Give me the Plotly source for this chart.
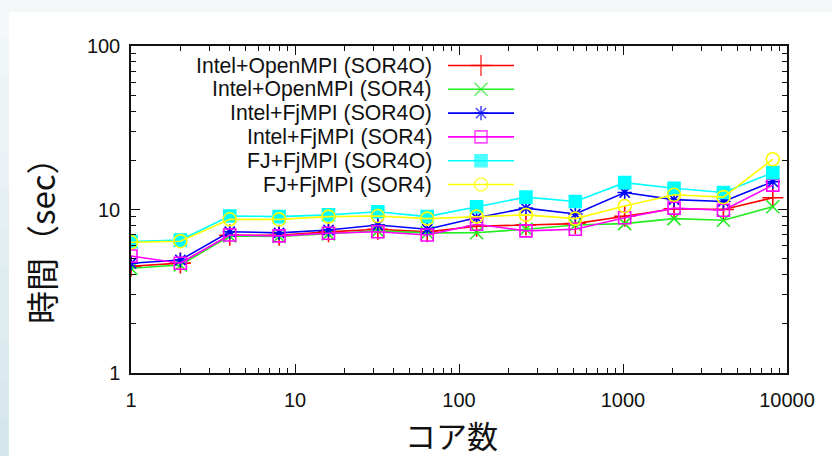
import plotly.graph_objects as go

# Core counts (x) and elapsed time in seconds for each build/solver pair
cores = [1, 2, 4, 8, 16, 32, 64, 128, 256, 512, 1024, 2048, 4096, 8192]

intel_openmpi_sor4o = [4.5, 4.7, 6.95, 6.95, 7.3, 7.57, 7.3, 7.9, 8.04, 8.2, 9.1, 10.1, 10.0, 11.8]
intel_openmpi_sor4 = [4.37, 4.58, 6.88, 6.85, 7.1, 7.4, 7.2, 7.21, 7.57, 8.04, 8.2, 8.8, 8.6, 10.4]
intel_fjmpi_sor4o = [4.69, 4.91, 7.31, 7.2, 7.49, 8.04, 7.57, 8.9, 10.2, 9.38, 12.7, 11.5, 11.2, 14.8]
intel_fjmpi_sor4 = [5.2, 4.69, 6.98, 6.9, 7.15, 7.31, 6.98, 8.12, 7.4, 7.57, 8.91, 10.2, 9.9, 14.1]
fj_fjmpi_sor4o = [6.36, 6.5, 9.12, 9.05, 9.27, 9.69, 9.05, 10.4, 11.9, 11.2, 14.6, 13.5, 12.7, 16.8]
fj_fjmpi_sor4 = [6.3, 6.4, 8.71, 8.7, 9.05, 9.12, 8.8, 9.05, 9.27, 8.8, 10.5, 12.3, 11.9, 20.3]

series_names = [
    "Intel+OpenMPI (SOR4O)",
    "Intel+OpenMPI (SOR4)",
    "Intel+FjMPI (SOR4O)",
    "Intel+FjMPI (SOR4)",
    "FJ+FjMPI (SOR4O)",
    "FJ+FjMPI (SOR4)",
]
series_values = [
    intel_openmpi_sor4o,
    intel_openmpi_sor4,
    intel_fjmpi_sor4o,
    intel_fjmpi_sor4,
    fj_fjmpi_sor4o,
    fj_fjmpi_sor4,
]

x_tick_vals = [1, 10, 100, 1000, 10000]
x_tick_text = ["1", "10", "100", "1000", "10000"]
y_tick_vals = [1, 10, 100]
y_tick_text = ["1", "10", "100"]

x_title = "コア数"
y_title = "時間（sec）"

# gnuplot-like styles: colour, symbol, marker size
styles = [
    ("#ff0000", "cross-thin-open", 15),
    ("#22ee22", "x-thin-open", 13),
    ("#0000ff", "asterisk-open", 12),
    ("#ff00ff", "square-open", 12),
    ("#00ffff", "square", 12),
    ("#ffff00", "circle-open", 13),
]

W, H = 832, 456
L, R, T, B = 131, 787, 46, 373  # plot area in pixels

fig = go.Figure()

for name, vals, (col, sym, size) in zip(series_names, series_values, styles):
    fig.add_trace(go.Scatter(
        x=cores, y=vals, name=name, mode="lines+markers",
        line=dict(color=col, width=1.6),
        marker=dict(symbol=sym, size=size, color=col, line=dict(color=col, width=1.6)),
        showlegend=False,
    ))

# Key drawn gnuplot-style: right-aligned label, then line sample with marker
key_right = 433
key_line = (448, 514)
key_top = 65.5
key_step = 23.8
for i, (name, (col, sym, size)) in enumerate(zip(series_names, styles)):
    yk = key_top + i * key_step
    fig.add_trace(go.Scatter(
        x=[key_line[0], (key_line[0] + key_line[1]) / 2, key_line[1]],
        y=[yk, yk, yk], xaxis="x2", yaxis="y2", mode="lines+markers",
        line=dict(color=col, width=1.6),
        marker=dict(symbol=sym, size=[0, size, 0], color=col,
                    line=dict(color=col, width=1.6)),
        showlegend=False, hoverinfo="skip",
    ))
    fig.add_annotation(
        x=key_right, y=yk, xref="x2", yref="y2", text=name, showarrow=False,
        xanchor="right", yanchor="middle", borderpad=0,
        font=dict(family="Liberation Sans, Arial", size=21.2, color="#111111"),
    )

def px_x(p):
    return (p - L) / (R - L)

def px_y(p):
    return (B - p) / (B - T)

# light page background along the left and top edges
steps = 12
for k in range(steps):
    t = k / (steps - 1)
    r = int(0xf4 + (0xd6 - 0xf4) * t)
    g = int(0xf8 + (0xe7 - 0xf8) * t)
    b = int(0xf9 + (0xec - 0xf9) * t)
    fig.add_shape(type="rect", xref="paper", yref="paper", layer="below",
                  x0=px_x(0), x1=px_x(9), y0=px_y(H * (k + 1) / steps), y1=px_y(H * k / steps),
                  line=dict(width=0), fillcolor=f"rgb({r},{g},{b})")
fig.add_shape(type="rect", xref="paper", yref="paper", layer="below",
              x0=px_x(9), x1=px_x(W), y0=px_y(12), y1=px_y(0),
              line=dict(width=0), fillcolor="#f4f8f9")

fig.add_annotation(x=px_x(41), y=px_y(233), xref="paper", yref="paper", text=y_title,
                   textangle=-90, showarrow=False, xanchor="center", yanchor="middle",
                   font=dict(family="Noto Sans CJK JP", size=33, color="#111111"))
fig.add_annotation(x=px_x(451), y=px_y(434), xref="paper", yref="paper", text=x_title,
                   showarrow=False, xanchor="center", yanchor="middle", borderpad=0,
                   font=dict(family="Noto Sans CJK JP", size=31, color="#111111"))

axis_common = dict(
    showgrid=False, zeroline=False, showline=True, linecolor="#111111", linewidth=1.5,
    ticks="inside", ticklen=9, tickwidth=1.2, tickcolor="#111111", mirror="allticks",
    tickfont=dict(family="Liberation Sans, Arial", size=20, color="#111111"),
)

fig.update_layout(
    width=W, height=H, autosize=False,
    margin=dict(l=L, r=W - R, t=T, b=H - B),
    paper_bgcolor="white", plot_bgcolor="white",
    xaxis=dict(type="log", range=[0, 4], tickvals=x_tick_vals, ticktext=x_tick_text,
               ticklabelstandoff=8,
               minor=dict(ticks="inside", ticklen=5, tickcolor="#111111", dtick="D1", showgrid=False),
               **axis_common),
    yaxis=dict(type="log", range=[0, 2], tickvals=y_tick_vals, ticktext=y_tick_text,
               ticklabelstandoff=5,
               minor=dict(ticks="inside", ticklen=5, tickcolor="#111111", dtick="D1", showgrid=False),
               **axis_common),
    xaxis2=dict(range=[L, R], overlaying="x", anchor="y2", visible=False),
    yaxis2=dict(range=[B, T], overlaying="y", anchor="x2", visible=False),
)

fig.write_html("out.html")
